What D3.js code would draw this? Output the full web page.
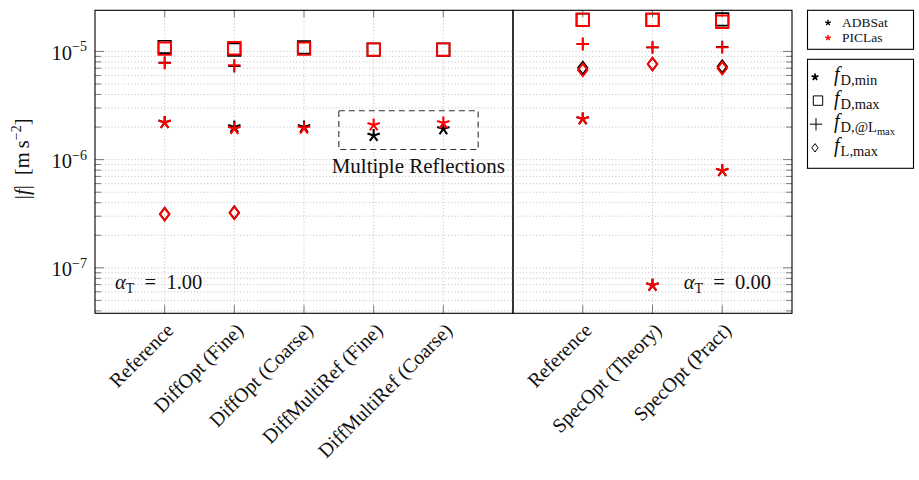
<!DOCTYPE html>
<html>
<head>
<meta charset="utf-8">
<script src="https://cdn.jsdelivr.net/npm/d3@7"></script>
<style>
  body { margin: 0; background: #fff; }
  text { font-family: "Liberation Serif", "Times New Roman", serif; fill: #111; }
</style>
</head>
<body>
<svg id="chart" width="919" height="480"></svg>
<script>
// ---- categories ----
const catsDiffuse  = ["Reference", "DiffOpt (Fine)", "DiffOpt (Coarse)", "DiffMultiRef (Fine)", "DiffMultiRef (Coarse)"];
const catsSpecular = ["Reference", "SpecOpt (Theory)", "SpecOpt (Pract)"];

// ---- alpha_T = 1.00 (diffuse) : |f| in m s^-2 ----
const adbDiffDmin = [2.20e-6, 2.00e-6, 2.00e-6, 1.67e-6, 1.92e-6];
const picDiffDmin = [2.20e-6, 1.93e-6, 1.95e-6, 2.09e-6, 2.18e-6];
const adbDiffDmax = [1.10e-5, 1.04e-5, 1.09e-5, 1.04e-5, 1.04e-5];
const picDiffDmax = [1.06e-5, 1.07e-5, 1.06e-5, 1.04e-5, 1.04e-5];
const adbDiffDatL = [7.9e-6, 7.3e-6, null, null, null];
const picDiffDatL = [7.8e-6, 7.45e-6, null, null, null];
const adbDiffLmax = [3.15e-7, 3.25e-7, null, null, null];
const picDiffLmax = [3.12e-7, 3.22e-7, null, null, null];

// ---- alpha_T = 0.00 (specular) ----
const adbSpecDmin = [2.38e-6, 6.9e-8, 7.9e-7];
const picSpecDmin = [2.38e-6, 6.9e-8, 7.9e-7];
const adbSpecDmax = [1.96e-5, 1.96e-5, 1.98e-5];
const picSpecDmax = [1.96e-5, 1.96e-5, 1.88e-5];
const adbSpecDatL = [1.17e-5, 1.09e-5, 1.10e-5];
const picSpecDatL = [1.17e-5, 1.09e-5, 1.09e-5];
const adbSpecLmax = [7.05e-6, 7.65e-6, 7.25e-6];
const picSpecLmax = [6.75e-6, 7.65e-6, 7.0e-6];

const yTickMajor = [1e-7, 1e-6, 1e-5];
const yTickLabels = ["\u22127", "\u22126", "\u22125"];
const sources = ["ADBSat", "PICLas"];
const sourceColors = ["#000", "#f00"];

// ---- layout ----
const svg = d3.select("#chart");
const plotTop = 10.3, plotBottom = 313.3;
const xL = 95, xM = 513, xR = 792;

const y = d3.scaleLog().domain([3.8e-8, 2.4e-5]).range([plotBottom, plotTop]);
const xDiff = d3.scaleLinear().domain([0, catsDiffuse.length + 1]).range([xL, xM]);
const xSpec = d3.scaleLinear().domain([0, catsSpecular.length + 1]).range([xM, xR]);

// all log ticks up to the last full decade
const yTickAll = y.ticks().filter(v => v <= 1e-5 * 1.0001);
const isMajor = v => yTickMajor.some(m => Math.abs(v / m - 1) < 1e-6);

// ---- marker shapes ----
function starPath(r) {
  let p = "";
  for (let i = 0; i < 5; i++) {
    const a = Math.PI / 2 + i * 2 * Math.PI / 5;
    p += `M0,0L${(r * Math.cos(a)).toFixed(2)},${(-r * Math.sin(a)).toFixed(2)}`;
  }
  return p;
}
const shapes = {
  star:    r => starPath(r),
  square:  r => `M${-r},${-r}H${r}V${r}H${-r}Z`,
  plus:    r => `M${-r},0H${r}M0,${-r}V${r}`,
  diamond: r => `M0,${-r}L${0.75 * r},0L0,${r}L${-0.75 * r},0Z`
};
const markerSize = { star: 6.5, square: 6.2, plus: 6.2, diamond: 6.3 };

function drawPanel(xs, cats, series, x0, x1, tickSide) {
  const g = svg.append("g");

  // grid
  g.selectAll("line.hg").data(yTickAll).join("line")
    .attr("x1", x0).attr("x2", x1)
    .attr("y1", d => y(d)).attr("y2", d => y(d))
    .attr("stroke", "#b8b8b8").attr("stroke-width", 0.9)
    .attr("stroke-dasharray", "1,2.3");
  g.selectAll("line.vg").data(cats).join("line")
    .attr("x1", (d, i) => xs(i + 1)).attr("x2", (d, i) => xs(i + 1))
    .attr("y1", plotTop).attr("y2", plotBottom)
    .attr("stroke", "#b8b8b8").attr("stroke-width", 0.9)
    .attr("stroke-dasharray", "1,2.3");

  // y ticks
  const tx = tickSide === "left" ? x0 : x1;
  const dir = tickSide === "left" ? 1 : -1;
  g.selectAll("line.yt").data(yTickAll).join("line")
    .attr("x1", tx).attr("x2", d => tx + dir * (isMajor(d) ? 9 : 6))
    .attr("y1", d => y(d)).attr("y2", d => y(d))
    .attr("stroke", "#7a7a7a").attr("stroke-width", 1);

  // x ticks (top and bottom)
  cats.forEach((c, i) => {
    const cx = xs(i + 1);
    g.append("line").attr("x1", cx).attr("x2", cx).attr("y1", plotTop).attr("y2", plotTop + 7)
      .attr("stroke", "#7a7a7a");
    g.append("line").attr("x1", cx).attr("x2", cx).attr("y1", plotBottom).attr("y2", plotBottom - 8)
      .attr("stroke", "#7a7a7a");
  });

  // frame
  g.append("rect").attr("x", x0).attr("y", plotTop).attr("width", x1 - x0).attr("height", plotBottom - plotTop)
    .attr("fill", "none").attr("stroke", "#000").attr("stroke-width", 1.1);

  // x labels
  g.selectAll("text.xl").data(cats).join("text")
    .attr("transform", (d, i) => `translate(${xs(i + 1)},${plotBottom + 8}) rotate(-45)`)
    .attr("text-anchor", "end").attr("dy", "0.72em")
    .style("font-size", "20px")
    .text(d => d);

  // markers: every ADBSat series first, PICLas on top
  sources.forEach((src, si) => {
    series.forEach(s => {
      const vals = s.values[si];
      const r = markerSize[s.shape];
      g.selectAll(null).data(vals.map((v, i) => ({ v, i })).filter(d => d.v != null)).join("path")
        .attr("transform", d => `translate(${xs(d.i + 1)},${y(d.v)})`)
        .attr("d", shapes[s.shape](r))
        .attr("fill", "none")
        .attr("stroke", sourceColors[si])
        .attr("stroke-width", s.shape === "star" ? 2.1 : (si === 0 ? 1.7 : 1.9))
        .attr("stroke-linejoin", "miter");
    });
  });
  return g;
}

drawPanel(xDiff, catsDiffuse, [
  { shape: "square",  values: [adbDiffDmax, picDiffDmax] },
  { shape: "plus",    values: [adbDiffDatL, picDiffDatL] },
  { shape: "star",    values: [adbDiffDmin, picDiffDmin] },
  { shape: "diamond", values: [adbDiffLmax, picDiffLmax] }
], xL, xM, "left");

drawPanel(xSpec, catsSpecular, [
  { shape: "square",  values: [adbSpecDmax, picSpecDmax] },
  { shape: "plus",    values: [adbSpecDatL, picSpecDatL] },
  { shape: "star",    values: [adbSpecDmin, picSpecDmin] },
  { shape: "diamond", values: [adbSpecLmax, picSpecLmax] }
], xM, xR, "right");

// y tick labels
yTickMajor.forEach((v, i) => {
  const t = svg.append("text")
    .attr("x", 87).attr("y", y(v) + 8.5)
    .attr("text-anchor", "end").style("font-size", "20.5px");
  t.append("tspan").text("10");
  t.append("tspan").attr("dy", -8.5).style("font-size", "14px").text(yTickLabels[i]);
});

// y axis title
const yt = svg.append("text")
  .attr("transform", `translate(29,${(plotTop + plotBottom) / 2 - 3}) rotate(-90)`)
  .attr("text-anchor", "middle").style("font-size", "20.5px");
yt.append("tspan").text("|");
yt.append("tspan").style("font-style", "italic").text("f");
yt.append("tspan").text("|\u2002[m\u2009s");
yt.append("tspan").attr("dy", -8).style("font-size", "14px").text("\u22122");
yt.append("tspan").attr("dy", 8).text("]");

// alpha_T annotations
function alphaLabel(x, anchor, val) {
  const t = svg.append("text").attr("x", x).attr("y", plotBottom - 24.5)
    .attr("text-anchor", anchor).style("font-size", "20.5px");
  t.append("tspan").style("font-style", "italic").text("\u03b1");
  t.append("tspan").attr("dy", 4).style("font-size", "14px").text("T");
  t.append("tspan").attr("dy", -4).text("\u2002=\u2002" + val);
}
alphaLabel(xL + 20, "start", "1.00");
alphaLabel(xR - 21, "end", "0.00");

// multiple reflections box
svg.append("rect")
  .attr("x", xDiff(3.5)).attr("y", y(2.83e-6))
  .attr("width", xDiff(5.5) - xDiff(3.5)).attr("height", y(1.24e-6) - y(2.83e-6))
  .attr("fill", "none").attr("stroke", "#333").attr("stroke-width", 1.1)
  .attr("stroke-dasharray", "6,4");
svg.append("text")
  .attr("x", xDiff(4.64)).attr("y", y(1.24e-6) + 23)
  .attr("text-anchor", "middle").style("font-size", "21px")
  .text("Multiple Reflections");

// ---- legends ----
const lgX = 807.5, lgW = 106;
const lg1 = svg.append("g");
lg1.append("rect").attr("x", lgX).attr("y", 10.3).attr("width", lgW).attr("height", 39)
  .attr("fill", "#fff").attr("stroke", "#000").attr("stroke-width", 1.1);
sources.forEach((s, i) => {
  const yy = 22.8 + i * 15;
  lg1.append("path").attr("transform", `translate(828,${yy})`).attr("d", starPath(3))
    .attr("stroke", sourceColors[i]).attr("stroke-width", 1.3).attr("fill", "none");
  lg1.append("text").attr("x", 842).attr("y", yy + 4.5).style("font-size", "13.5px").text(s);
});

const lg2 = svg.append("g");
lg2.append("rect").attr("x", lgX).attr("y", 59.3).attr("width", lgW).attr("height", 109)
  .attr("fill", "#fff").attr("stroke", "#000").attr("stroke-width", 1.1);
const legendShapes = ["star", "square", "plus", "diamond"];
const legendSubs = [["D,min"], ["D,max"], ["D,@L", "max"], ["L,max"]];
const legendSize = { star: 3.6, square: 4.7, plus: 6.2, diamond: 4.2 };
const legendMarkX = { star: 815, square: 818, plus: 816, diamond: 815 };
legendShapes.forEach((sh, i) => {
  const yy = 77 + i * 23.6;
  lg2.append("path").attr("transform", `translate(${legendMarkX[sh]},${yy})`).attr("d", shapes[sh](legendSize[sh]))
    .attr("fill", "none").attr("stroke", "#000").attr("stroke-width", sh === "star" ? 1.8 : 1);
  const t = lg2.append("text").attr("x", 834).attr("y", yy + 4).style("font-size", "20px");
  t.append("tspan").style("font-style", "italic").text("f");
  t.append("tspan").attr("dx", 1).attr("dy", 4).style("font-size", "14.5px").text(legendSubs[i][0]);
  if (legendSubs[i][1]) {
    t.append("tspan").attr("dy", 3).style("font-size", "10.5px").text(legendSubs[i][1]);
  }
});
</script>
</body>
</html>
